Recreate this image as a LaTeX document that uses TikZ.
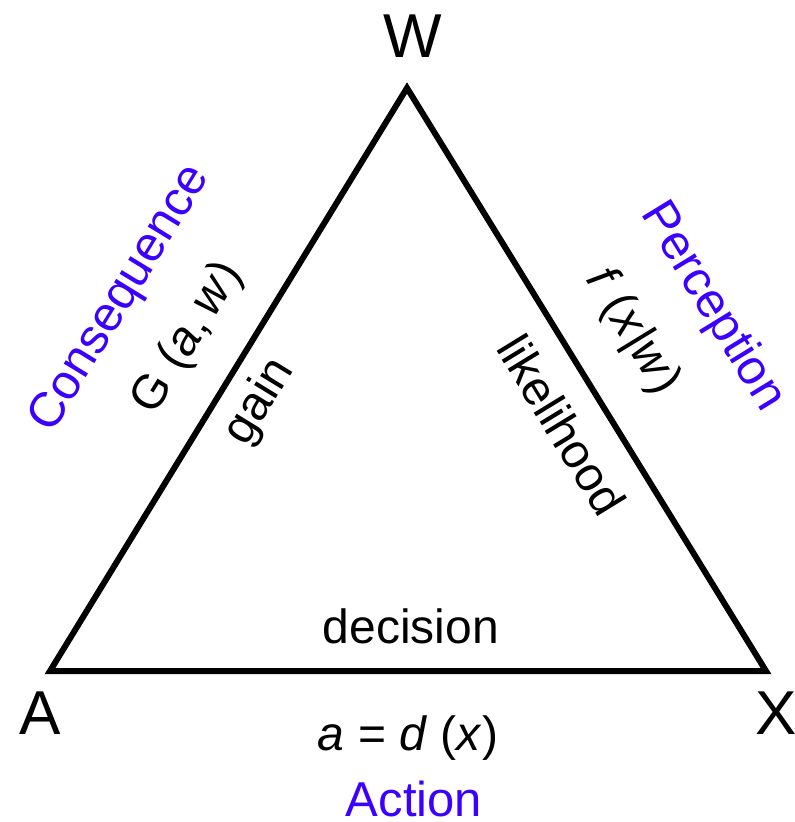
\documentclass[tikz,border=0pt]{standalone}
\usepackage{fontspec}
\setmainfont{Liberation Sans}
\definecolor{lblue}{RGB}{60,0,255}
\tikzset{
  edge/.style={line width=3pt, line join=miter},
  vlabel/.style={inner sep=0pt, font=\fontsize{31}{36}\selectfont},
  elabel/.style={inner sep=0pt, font=\fontsize{24}{28}\selectfont},
  blabel/.style={inner sep=0pt, text=lblue, font=\fontsize{24.5}{28}\selectfont}
}
\begin{document}
\begin{tikzpicture}[x=0.5pt,y=-0.5pt]
\useasboundingbox (0,0) rectangle (794,822);
\coordinate (w) at (407,88);
\coordinate (a) at (50,671);
\coordinate (x) at (766,671);
\draw[edge] (w) -- (x) -- (a) -- cycle;
% vertex labels
\node[vlabel, anchor=base] (lw) at (413,58) {W};
\node[vlabel, anchor=base] (la) at (40,734) {A};
\node[vlabel, anchor=base] (lx) at (776,734) {X};
% bottom
\node[elabel, anchor=base] (dec) at (411,643) {decision};
\node[elabel, anchor=base] (ad) at (408,750) {\textit{a} = \textit{d} (\textit{x})};
\node[blabel, anchor=base] (act) at (414,816) {Action};
% left side
\node[blabel, rotate=58.5] (cons) at (121,299) {Consequence};
\node[elabel, rotate=58.5] (gaw) at (188,338) {G (\textit{a},\,\textit{w})};
\node[elabel, rotate=58.5] (gain) at (260,402) {gain};
% right side
\node[blabel, rotate=-58.5] (perc) at (712,307) {Perception};
\node[elabel, rotate=-58.5] (fxw) at (632,332) {\textit{f} (\textit{x}|\textit{w})};
\node[elabel, rotate=-58.5] (lik) at (562,425) {likelihood};
\end{tikzpicture}
\end{document}
